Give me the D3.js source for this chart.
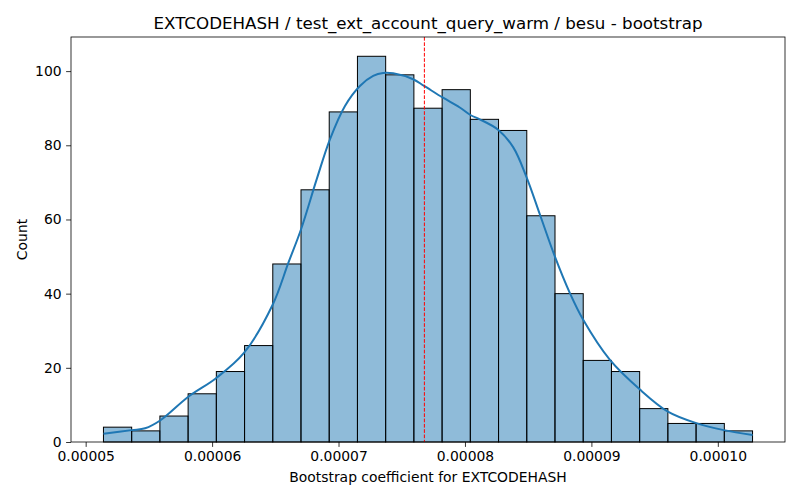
<!DOCTYPE html>
<html>
<head>
  <meta charset="utf-8">
  <script src="https://d3js.org/d3.v7.min.js"></script>
  <style>
    body { margin: 0; background: white; }
    svg { display: block; }
    text { font-family: "DejaVu Sans", sans-serif; fill: black; }
  </style>
</head>
<body>
<div id="chart"></div>
<script>
  // Histogram counts (23 bins, left to right)
  var counts = [4, 3, 7, 13, 19, 26, 48, 68, 89, 104, 99, 90, 95, 87, 84, 61, 40, 22, 19, 9, 5, 5, 3];
  var binStart = 5.1407e-5,   // left edge of first bin
      binEnd = 10.2746e-5;    // right edge of last bin

  // KDE curve (x in 1e-5 units, y in counts)
  var kdeX = [5.141, 5.365, 5.470, 5.589, 5.812, 6.031, 6.252, 6.479, 6.603, 6.703, 6.827,
              6.932, 7.051, 7.169, 7.274, 7.353, 7.432, 7.590, 7.677, 7.823, 7.959, 8.046,
              8.117, 8.262, 8.381, 8.486, 8.592, 8.710, 8.829, 8.934, 9.145, 9.382, 9.605,
              9.830, 10.048, 10.275];
  var kdeY = [2.2, 3.2, 3.7, 5.8, 12.2, 17.2, 24.0, 37.0, 48.3, 57.3, 70.8,
              81.6, 90.6, 96.0, 98.7, 99.5, 99.4, 97.8, 96.0, 92.9, 90.2, 88.1,
              87.0, 84.2, 79.5, 71.5, 61.4, 50.1, 40.2, 33.0, 22.2, 14.2, 8.2,
              5.1, 3.2, 1.9];

  var meanValue = 7.679e-5;   // red dashed line
  var xTicks = [5e-5, 6e-5, 7e-5, 8e-5, 9e-5, 10e-5];
  var yTicks = [0, 20, 40, 60, 80, 100];

  var title = "EXTCODEHASH / test_ext_account_query_warm / besu - bootstrap";
  var xLabel = "Bootstrap coefficient for EXTCODEHASH";
  var yLabel = "Count";

  var width = 800, height = 500;
  var margin = {left: 71, right: 15, top: 37, bottom: 58};

  var svg = d3.select("#chart").append("svg")
    .attr("width", width).attr("height", height);

  var pad = (binEnd - binStart) * 0.05;
  var x = d3.scaleLinear()
    .domain([binStart - pad, binEnd + pad])
    .range([margin.left, width - margin.right]);

  var y = d3.scaleLinear()
    .domain([0, d3.max(counts) * 1.05])
    .range([height - margin.bottom, margin.top]);

  var binWidth = (binEnd - binStart) / counts.length;
  var bins = counts.map(function(c, i) {
    return {x0: binStart + i * binWidth, x1: binStart + (i + 1) * binWidth, count: c};
  });

  // bars
  svg.append("g").selectAll("rect")
    .data(bins)
    .enter().append("rect")
    .attr("x", function(d) { return x(d.x0); })
    .attr("y", function(d) { return y(d.count); })
    .attr("width", function(d) { return x(d.x1) - x(d.x0); })
    .attr("height", function(d) { return y(0) - y(d.count); })
    .style("fill", "rgba(31,119,180,0.5)")
    .style("stroke", "black")
    .style("stroke-width", 1);

  // kde line
  var kdePts = kdeX.map(function(v, i) { return [v * 1e-5, kdeY[i]]; });
  var line = d3.line()
    .x(function(d) { return x(d[0]); })
    .y(function(d) { return y(d[1]); })
    .curve(d3.curveCatmullRom);

  svg.append("path")
    .datum(kdePts)
    .attr("d", line)
    .style("fill", "none")
    .style("stroke", "#1f77b4")
    .style("stroke-width", 2);

  // mean line
  svg.append("line")
    .attr("x1", x(meanValue)).attr("x2", x(meanValue))
    .attr("y1", margin.top).attr("y2", height - margin.bottom)
    .style("stroke", "red")
    .style("stroke-width", 1)
    .style("stroke-dasharray", "3.7,1.6");

  // axes
  var xAxis = d3.axisBottom(x)
    .tickValues(xTicks)
    .tickFormat(d3.format(".5f"))
    .tickSize(4.9).tickPadding(4.5);

  var yAxis = d3.axisLeft(y)
    .tickValues(yTicks)
    .tickSize(4.9).tickPadding(4.5);

  var gx = svg.append("g")
    .attr("transform", "translate(0," + (height - margin.bottom) + ")")
    .call(xAxis);
  var gy = svg.append("g")
    .attr("transform", "translate(" + margin.left + ",0)")
    .call(yAxis);

  [gx, gy].forEach(function(g) {
    g.select(".domain").remove();
    g.selectAll(".tick line").style("stroke", "black").style("stroke-width", 0.8);
    g.selectAll(".tick text")
      .style("font-family", "DejaVu Sans")
      .style("font-size", "13.9px")
      .style("fill", "black");
  });

  // frame
  svg.append("rect")
    .attr("x", margin.left).attr("y", margin.top)
    .attr("width", width - margin.left - margin.right)
    .attr("height", height - margin.top - margin.bottom)
    .style("fill", "none")
    .style("stroke", "black")
    .style("stroke-width", 0.8);

  // labels
  svg.append("text")
    .attr("x", (margin.left + width - margin.right) / 2)
    .attr("y", 29)
    .attr("text-anchor", "middle")
    .style("font-size", "16.7px")
    .text(title);

  svg.append("text")
    .attr("x", (margin.left + width - margin.right) / 2)
    .attr("y", 482)
    .attr("text-anchor", "middle")
    .style("font-size", "13.9px")
    .text(xLabel);

  svg.append("text")
    .attr("transform", "translate(27," + ((margin.top + height - margin.bottom) / 2) + ") rotate(-90)")
    .attr("text-anchor", "middle")
    .style("font-size", "13.9px")
    .text(yLabel);
</script>
</body>
</html>
